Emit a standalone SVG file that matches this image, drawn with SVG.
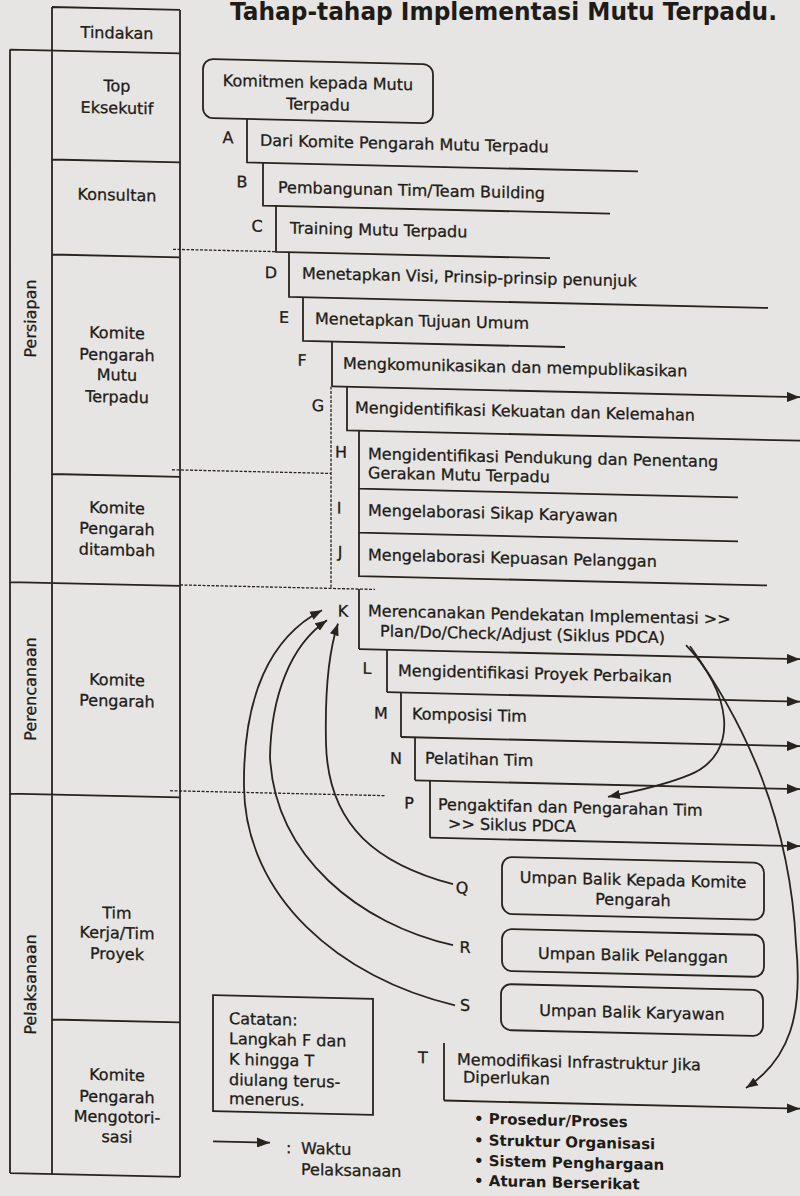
<svg xmlns="http://www.w3.org/2000/svg" width="800" height="1196" viewBox="0 0 800 1196">
<style>
.t{font-family:'DejaVu Sans','Liberation Sans',sans-serif;font-size:16px;fill:#1f1b17;stroke:#1f1b17;stroke-width:0.3}
.m{text-anchor:middle}
.bl{font-weight:bold;font-size:15px;stroke-width:0}
.ttl{font-family:'DejaVu Sans','Liberation Sans',sans-serif;font-size:24px;font-weight:bold;fill:#1f1b17;text-anchor:middle}
.ln{stroke:#29231d;stroke-width:1.8;fill:none}
.dot{stroke:#29231d;stroke-width:1.3;fill:none;stroke-dasharray:3 1.5}
.box{stroke:#29231d;stroke-width:1.8;fill:none}
.arr{marker-end:url(#ah)}
.carr{marker-end:url(#ahc)}
</style>
<defs>
<marker id="ah" markerUnits="userSpaceOnUse" markerWidth="14" markerHeight="10" refX="13" refY="5" orient="auto"><path d="M0,0 L13,5 L0,10 z" fill="#29231d"/></marker>
<marker id="ahc" markerUnits="userSpaceOnUse" markerWidth="13" markerHeight="10" refX="12" refY="5" orient="auto"><path d="M0,0.5 L12,5 L0,9.5 z" fill="#29231d"/></marker>
</defs>
<rect width="800" height="1196" fill="#e6e5e3"/>
<text class="ttl" x="503.5" y="20" textLength="547" lengthAdjust="spacingAndGlyphs">Tahap-tahap Implementasi Mutu Terpadu.</text>
<g transform="matrix(1 0.023 0 1 0 -9.2)">
<g id="table">
<path class="ln" d="M10 58.5 V1182 M52 15 V1182 M180 15 V1182 M52 15 H180 M10 58.5 H180 M52 167.5 H180 M52 262.5 H180 M52 482 H180 M10 591 H180 M10 802.5 H180 M52 1027.5 H180 M10 1182 H180"/>
<text class="t m" transform="translate(36,327) rotate(-90)">Persiapan</text>
<text class="t m" transform="translate(36,697.5) rotate(-90)">Perencanaan</text>
<text class="t m" transform="translate(36,993) rotate(-90)">Pelaksanaan</text>
</g>
<g id="row-tindakan"><text class="t m" x="117" y="45">Tindakan</text></g>
<g id="row-top"><text class="t m" x="117" y="98">Top</text><text class="t m" x="117" y="120">Eksekutif</text></g>
<g id="row-konsultan"><text class="t m" x="117" y="207">Konsultan</text></g>
<g id="row-kpmt"><text class="t m" x="117" y="345">Komite</text><text class="t m" x="117" y="367">Pengarah</text><text class="t m" x="117" y="387">Mutu</text><text class="t m" x="117" y="409">Terpadu</text></g>
<g id="row-kpd"><text class="t m" x="117" y="520">Komite</text><text class="t m" x="117" y="541">Pengarah</text><text class="t m" x="117" y="562">ditambah</text></g>
<g id="row-kp"><text class="t m" x="117" y="692">Komite</text><text class="t m" x="117" y="713">Pengarah</text></g>
<g id="row-tim"><text class="t m" x="117" y="925">Tim</text><text class="t m" x="117" y="945">Kerja/Tim</text><text class="t m" x="117" y="966">Proyek</text></g>
<g id="row-kpm"><text class="t m" x="117" y="1087">Komite</text><text class="t m" x="117" y="1109">Pengarah</text><text class="t m" x="117" y="1129">Mengotori-</text><text class="t m" x="117" y="1149">sasi</text></g>

<g id="komitmen"><rect class="box" x="203" y="63.5" width="230" height="59" rx="10"/><text class="t m" x="318" y="90">Komitmen kepada Mutu</text><text class="t m" x="318" y="112">Terpadu</text></g>
<g id="step-A"><path class="ln" d="M247 122.5 V166 H638"/><text class="t m" x="228" y="147">A</text><text class="t" x="260" y="149">Dari Komite Pengarah Mutu Terpadu</text></g>
<g id="step-B"><path class="ln" d="M263 166 V208.7 H610"/><text class="t m" x="242" y="191">B</text><text class="t" x="278" y="195.5">Pembangunan Tim/Team Building</text></g>
<g id="step-C"><path class="ln" d="M276 208.7 V254.7 H550"/><text class="t m" x="257" y="235">C</text><text class="t" x="290" y="236">Training Mutu Terpadu</text></g>
<g id="step-D"><path class="ln" d="M289 254.7 V299.5 H768"/><text class="t m" x="271" y="281">D</text><text class="t" x="302" y="281">Menetapkan Visi, Prinsip-prinsip penunjuk</text></g>
<g id="step-E"><path class="ln" d="M303 299.5 V343.2 H565"/><text class="t m" x="284" y="325.5">E</text><text class="t" x="315" y="326">Menetapkan Tujuan Umum</text></g>
<g id="step-F"><path class="ln" d="M332 343.2 V388"/><text class="t m" x="302" y="368">F</text><text class="t" x="343" y="370">Mengkomunikasikan dan mempublikasikan</text></g>
<g id="step-G"><path class="ln" d="M347 388 V431.5 H800"/><text class="t m" x="318" y="413">G</text><text class="t" x="355" y="414">Mengidentifikasi Kekuatan dan Kelemahan</text></g>
<g id="step-H"><path class="ln" d="M359 431.5 V489.6 H738"/><text class="t m" x="341" y="459">H</text><text class="t" x="368" y="460">Mengidentifikasi Pendukung dan Penentang</text><text class="t" x="368" y="479">Gerakan Mutu Terpadu</text></g>
<g id="step-I"><path class="ln" d="M359 489.6 V533.6 H738"/><text class="t m" x="339" y="515">I</text><text class="t" x="368" y="516.5">Mengelaborasi Sikap Karyawan</text></g>
<g id="step-J"><path class="ln" d="M359 533.6 V577 H767"/><text class="t m" x="340" y="559">J</text><text class="t" x="368" y="561">Mengelaborasi Kepuasan Pelanggan</text></g>
<g id="step-K"><path class="ln" d="M359 590 V650"/><text class="t m" x="343" y="618">K</text><text class="t" x="368" y="617">Merencanakan Pendekatan Implementasi &gt;&gt;</text><text class="t" x="380" y="637">Plan/Do/Check/Adjust (Siklus PDCA)</text></g>
<g id="step-L"><path class="ln" d="M387 650 V692.5"/><text class="t m" x="367" y="674.5">L</text><text class="t" x="398" y="676">Mengidentifikasi Proyek Perbaikan</text></g>
<g id="step-M"><path class="ln" d="M401 692.5 V737"/><text class="t m" x="381" y="719">M</text><text class="t" x="412" y="719">Komposisi Tim</text></g>
<g id="step-N"><path class="ln" d="M415 737 V780"/><text class="t m" x="396" y="764">N</text><text class="t" x="425" y="763">Pelatihan Tim</text></g>
<g id="step-P"><path class="ln" d="M430 780 V837"/><text class="t m" x="409" y="808.5">P</text><text class="t" x="438" y="809">Pengaktifan dan Pengarahan Tim</text><text class="t" x="448" y="828">&gt;&gt; Siklus PDCA</text></g>
<g id="step-Q"><rect class="box" x="502" y="854.5" width="262" height="57" rx="10"/><text class="t m" x="462" y="892">Q</text><text class="t m" x="633" y="880">Umpan Balik Kepada Komite</text><text class="t m" x="633" y="900">Pengarah</text></g>
<g id="step-R"><rect class="box" x="502" y="926.6" width="262" height="42" rx="10"/><text class="t m" x="465" y="951.5">R</text><text class="t m" x="633" y="955.5">Umpan Balik Pelanggan</text></g>
<g id="step-S"><rect class="box" x="501" y="981.7" width="262" height="46" rx="10"/><text class="t m" x="465" y="1009.5">S</text><text class="t m" x="632" y="1012.5">Umpan Balik Karyawan</text></g>
<g id="step-T"><path class="ln" d="M444 1042 V1099.5"/><text class="t m" x="423" y="1062.5">T</text><text class="t" x="457" y="1063.5">Memodifikasi Infrastruktur Jika</text><text class="t" x="463" y="1081">Diperlukan</text>
<text class="t bl" x="474" y="1122">• Prosedur/Proses</text><text class="t bl" x="474" y="1143.5">• Struktur Organisasi</text><text class="t bl" x="474" y="1164">• Sistem Penghargaan</text><text class="t bl" x="474" y="1184">• Aturan Berserikat</text></g>
<g id="catatan"><rect class="box" x="213" y="999.5" width="160" height="116"/><text class="t" x="229" y="1028">Catatan:</text><text class="t" x="229" y="1048">Langkah F dan</text><text class="t" x="229" y="1068.5">K hingga T</text><text class="t" x="229" y="1089">diulang terus-</text><text class="t" x="229" y="1108">menerus.</text></g>
<g id="legend"><path class="ln arr" d="M213 1145.7 H270"/><text class="t" x="286" y="1156">:</text><text class="t" x="301" y="1156">Waktu</text><text class="t" x="301" y="1177">Pelaksanaan</text></g>

<g id="connectors">
<path class="ln arr" d="M332 388 H800"/>
<path class="ln arr" d="M359 650 H800"/>
<path class="ln arr" d="M387 692.5 H800"/>
<path class="ln arr" d="M401 737 H800"/>
<path class="ln arr" d="M415 780 H800"/>
<path class="ln arr" d="M430 837 H800"/>
<path class="ln arr" d="M444 1099.5 H800"/>
<path class="dot" d="M173 254.5 H276 M172 475 H331 M331 388 V589.6 M180 590 H375 M170 796 H385"/>
<path class="ln carr" d="M686 638.5 C730 683 742 745 690 768 C665 779 636 786 608 792"/>
<path class="ln carr" d="M690 639.5 C745 715 790 810 796 935 C803 1005 790 1050 746 1080"/>
<path class="ln carr" d="M453 883 C380 865 328 830 326 745 C325 700 328 655 338 625"/>
<path class="ln carr" d="M453 944 C360 925 275 860 270 760 C271 700 290 648 327 622"/>
<path class="ln carr" d="M455 1004 C340 980 245 900 244 790 C243 700 270 640 322 612"/>
</g>
</g>
</svg>
